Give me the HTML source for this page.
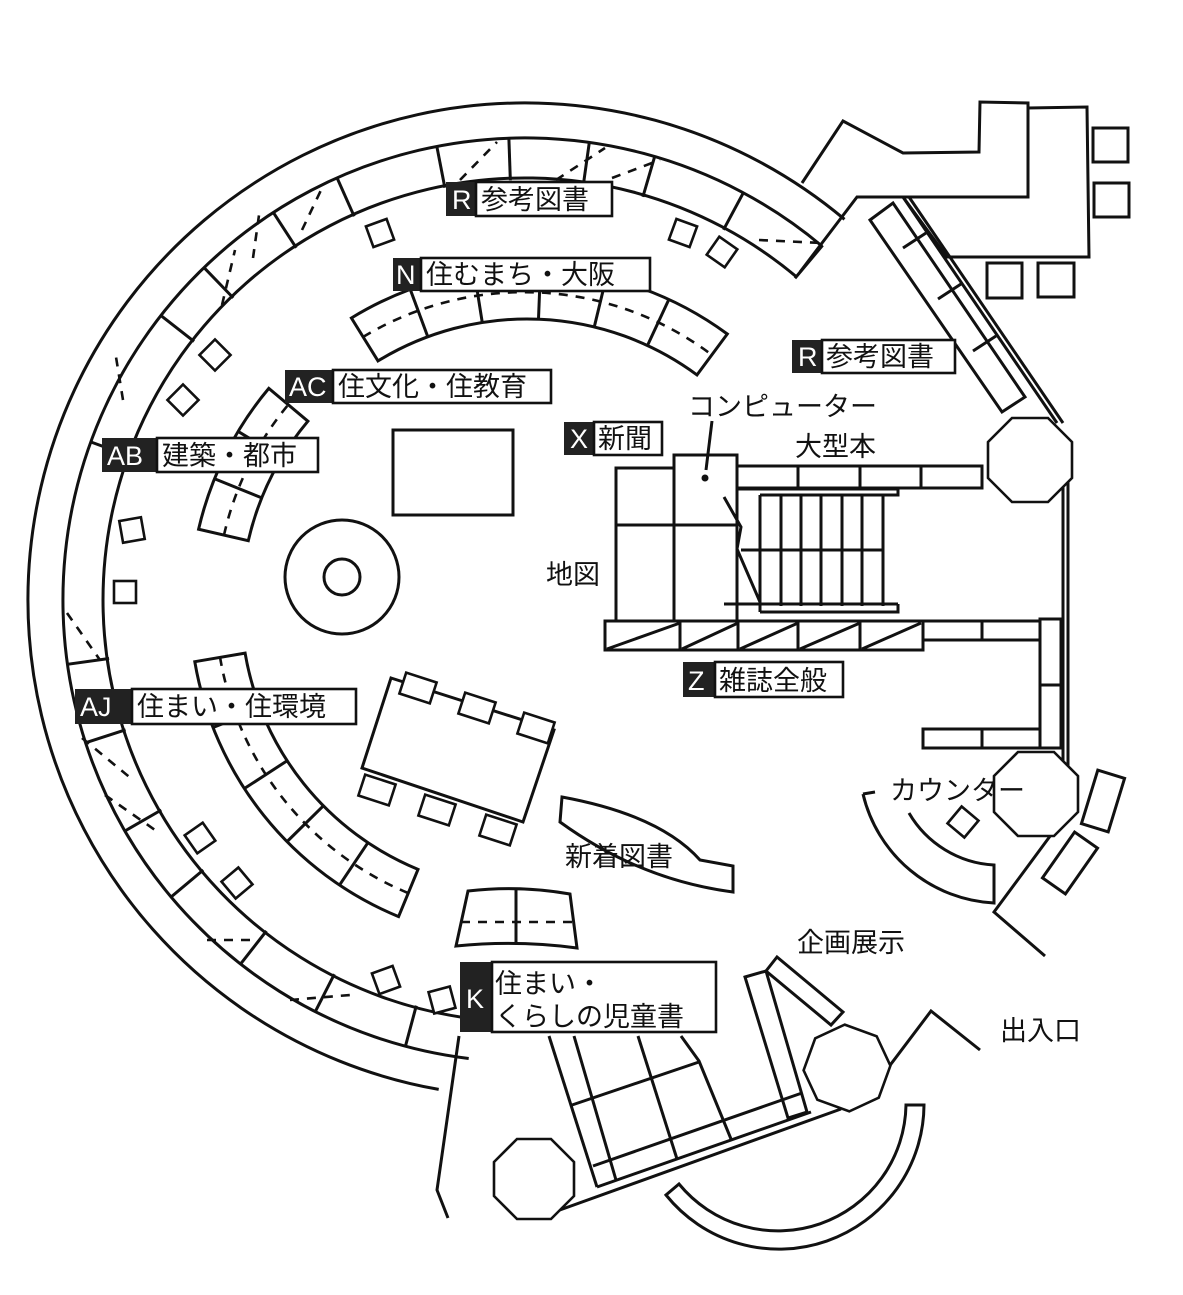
<!DOCTYPE html>
<html><head><meta charset="utf-8"><style>
html,body{margin:0;padding:0;background:#fff}
svg{display:block}
text{font-family:"Liberation Sans","Noto Sans CJK JP",sans-serif;fill:#111}
.l{fill:none;stroke:#111;stroke-width:3}
.d{fill:none;stroke:#111;stroke-width:2.6;stroke-dasharray:9 8}
.b{fill:#222}
.w{fill:#fff;stroke:#111;stroke-width:2.6}
</style></head><body>
<svg width="1183" height="1295" viewBox="0 0 1183 1295" xmlns="http://www.w3.org/2000/svg">
<path class="l" d="M844.5,219.3 A497,497 0 1 0 438.7,1089.4"/>
<path class="l" d="M822,246.1 A462,462 0 1 0 468.7,1058.5"/>
<path class="l" d="M796.3,276.7 A422,422 0 1 0 473.6,1018.8"/>
<g transform="translate(525,600)" class="l">
<line x1="420" y1="0" x2="463" y2="0" transform="rotate(-50)"/>
<line x1="420" y1="0" x2="463" y2="0" transform="rotate(-61.8)"/>
<line x1="420" y1="0" x2="463" y2="0" transform="rotate(-73.7)"/>
<line x1="420" y1="0" x2="463" y2="0" transform="rotate(-82)"/>
<line x1="420" y1="0" x2="463" y2="0" transform="rotate(-92)"/>
<line x1="420" y1="0" x2="463" y2="0" transform="rotate(-101)"/>
<line x1="420" y1="0" x2="463" y2="0" transform="rotate(-114)"/>
<line x1="420" y1="0" x2="463" y2="0" transform="rotate(-123)"/>
<line x1="420" y1="0" x2="463" y2="0" transform="rotate(-134)"/>
<line x1="420" y1="0" x2="463" y2="0" transform="rotate(-142)"/>
<line x1="420" y1="0" x2="463" y2="0" transform="rotate(-160)"/>
<line x1="420" y1="0" x2="463" y2="0" transform="rotate(-188)"/>
<line x1="420" y1="0" x2="463" y2="0" transform="rotate(-198)"/>
<line x1="420" y1="0" x2="463" y2="0" transform="rotate(-210)"/>
<line x1="420" y1="0" x2="463" y2="0" transform="rotate(-220)"/>
<line x1="420" y1="0" x2="463" y2="0" transform="rotate(-232)"/>
<line x1="420" y1="0" x2="463" y2="0" transform="rotate(-243)"/>
<line x1="420" y1="0" x2="463" y2="0" transform="rotate(-255)"/>
</g>
<g class="d">
<line x1="460" y1="180" x2="497" y2="142"/>
<line x1="556" y1="180" x2="605" y2="148"/>
<line x1="612" y1="178" x2="660" y2="160"/>
<line x1="759" y1="240" x2="822" y2="243"/>
<line x1="253" y1="258" x2="260" y2="208"/>
<line x1="302" y1="230" x2="322" y2="188"/>
<line x1="222" y1="305" x2="235" y2="250"/>
<line x1="123" y1="400" x2="116" y2="357"/>
<line x1="67" y1="613" x2="100" y2="660"/>
<line x1="82" y1="738" x2="133" y2="780"/>
<line x1="105" y1="795" x2="155" y2="830"/>
<line x1="207" y1="940" x2="255" y2="940"/>
<line x1="290" y1="1000" x2="350" y2="995"/>
</g>
<g transform="translate(527,605)">
<path class="l" d="M-175.6,-287.0 A337,337 0 0 1 200.3,-271.0 L170.0,-230.1 A286,286 0 0 0 -149.0,-244.1 Z"/>
<path class="d" d="M-164,-268 A312,312 0 0 1 185,-250"/>
<g class="l">
<line x1="286" y1="0" x2="337" y2="0" transform="rotate(-110.3)"/>
<line x1="286" y1="0" x2="337" y2="0" transform="rotate(-99)"/>
<line x1="286" y1="0" x2="337" y2="0" transform="rotate(-87.7)"/>
<line x1="286" y1="0" x2="337" y2="0" transform="rotate(-76.4)"/>
<line x1="286" y1="0" x2="337" y2="0" transform="rotate(-65.1)"/>
</g>
<path class="l" d="M-328.4,-75.8 A337,337 0 0 1 -258.2,-216.6 L-219.1,-183.8 A286,286 0 0 0 -278.7,-64.3 Z"/>
<path class="d" d="M-303,-70 A312,312 0 0 1 -239,-200"/>
<g class="l">
<line x1="286" y1="0" x2="337" y2="0" transform="rotate(-158)"/>
<line x1="286" y1="0" x2="337" y2="0" transform="rotate(-149)"/>
</g>
<path class="l" d="M-332.2,56.7 A337,337 0 0 0 -128.4,311.6 L-109.0,264.4 A286,286 0 0 1 -281.9,48.1 Z"/>
<path class="d" d="M-307,52 A312,312 0 0 0 -119,288"/>
<g class="l">
<line x1="286" y1="0" x2="337" y2="0" transform="rotate(158.7)"/>
<line x1="286" y1="0" x2="337" y2="0" transform="rotate(147)"/>
<line x1="286" y1="0" x2="337" y2="0" transform="rotate(135.4)"/>
<line x1="286" y1="0" x2="337" y2="0" transform="rotate(123.8)"/>
</g>
</g>
<path class="l" d="M468,891 Q519,885 570,894 L577,948 Q517,940 456,946 Z"/>
<line class="l" x1="516" y1="890" x2="516" y2="944"/>
<line class="d" x1="461" y1="922" x2="574" y2="922"/>
<path class="l" d="M562,797 Q660,815 700,860 L733,866 L733,892 Q640,880 560,822 Z"/>
<g class="w">
<rect x="-11" y="-11" width="22" height="22" transform="translate(380,233) rotate(-20)"/>
<rect x="-11" y="-11" width="22" height="22" transform="translate(683,233) rotate(20)"/>
<rect x="-11" y="-11" width="22" height="22" transform="translate(722,252) rotate(35)"/>
<rect x="-11" y="-11" width="22" height="22" transform="translate(215,355) rotate(-45)"/>
<rect x="-11" y="-11" width="22" height="22" transform="translate(183,400) rotate(-45)"/>
<rect x="-11" y="-11" width="22" height="22" transform="translate(132,530) rotate(-10)"/>
<rect x="-11" y="-11" width="22" height="22" transform="translate(125,592) rotate(0)"/>
<rect x="-11" y="-11" width="22" height="22" transform="translate(200,838) rotate(-35)"/>
<rect x="-11" y="-11" width="22" height="22" transform="translate(237,883) rotate(-40)"/>
<rect x="-11" y="-11" width="22" height="22" transform="translate(386,980) rotate(-20)"/>
<rect x="-11" y="-11" width="22" height="22" transform="translate(442,1000) rotate(-15)"/>
<rect x="-11" y="-11" width="22" height="22" transform="translate(963,822) rotate(40)"/>
</g>
<rect class="l" x="393" y="430" width="120" height="85"/>
<circle class="l" cx="342" cy="577" r="57"/>
<circle class="l" cx="342" cy="577" r="18"/>
<polygon class="l" points="391,678 554,730 523,822 362,768"/>
<g class="w">
<rect x="-16" y="-11" width="32" height="22" transform="translate(418,688) rotate(18)"/>
<rect x="-16" y="-11" width="32" height="22" transform="translate(477,708) rotate(18)"/>
<rect x="-16" y="-11" width="32" height="22" transform="translate(536,728) rotate(18)"/>
<rect x="-16" y="-11" width="32" height="22" transform="translate(377,790) rotate(18)"/>
<rect x="-16" y="-11" width="32" height="22" transform="translate(437,810) rotate(18)"/>
<rect x="-16" y="-11" width="32" height="22" transform="translate(498,830) rotate(18)"/>
</g>
<g class="l">
<rect x="616" y="468" width="58" height="153"/>
<rect x="674" y="455" width="63" height="166"/>
<line x1="616" y1="525" x2="737" y2="525"/>
<rect x="737" y="466" width="245" height="22"/>
<line x1="798" y1="466" x2="798" y2="488"/><line x1="860" y1="466" x2="860" y2="488"/><line x1="921" y1="466" x2="921" y2="488"/>
<polyline points="737,489 898,489 898,495 760,495"/>
<line x1="760" y1="495" x2="760" y2="612"/><line x1="781" y1="495" x2="781" y2="606"/><line x1="801" y1="495" x2="801" y2="606"/><line x1="821" y1="495" x2="821" y2="606"/><line x1="842" y1="495" x2="842" y2="606"/><line x1="862" y1="495" x2="862" y2="606"/><line x1="883" y1="495" x2="883" y2="606"/>
<line x1="741" y1="550" x2="883" y2="550"/>
<polyline points="724,497 741,527 737,549 760,602"/>
<line x1="724" y1="604" x2="898" y2="604"/>
<polyline points="760,612 898,612 898,604"/>
<rect x="605" y="621" width="318" height="29"/>
<line x1="680" y1="621" x2="680" y2="650"/><line x1="738" y1="621" x2="738" y2="650"/><line x1="798" y1="621" x2="798" y2="650"/><line x1="860" y1="621" x2="860" y2="650"/>
<line x1="607" y1="649" x2="680" y2="623"/><line x1="682" y1="649" x2="738" y2="623"/><line x1="740" y1="649" x2="798" y2="623"/><line x1="800" y1="649" x2="860" y2="623"/><line x1="862" y1="649" x2="921" y2="623"/>
<rect x="923" y="621" width="117" height="19"/><line x1="982" y1="621" x2="982" y2="640"/>
<rect x="1040" y="619" width="21" height="129"/><line x1="1040" y1="685" x2="1061" y2="685"/>
<rect x="923" y="729" width="117" height="19"/><line x1="982" y1="729" x2="982" y2="748"/>
<line x1="1063" y1="455" x2="1063" y2="771"/><line x1="1068" y1="455" x2="1068" y2="771"/>
<line x1="903" y1="197" x2="1057" y2="423"/><line x1="909" y1="197" x2="1063" y2="423"/>
<polygon points="870,220 893,203 1025,397 1002,412"/>
<line x1="903" y1="248" x2="926" y2="233"/><line x1="938" y1="299" x2="961" y2="284"/><line x1="973" y1="351" x2="996" y2="336"/>
<polyline points="802,183 843,121 903,153 979,152 980,102 1028,103 1028,108 1087,107 1089,257 947,257 903,197 857,197 838,222 800,272"/>
<polyline points="1028,108 1028,197 903,197"/>
<rect x="1093" y="128" width="35" height="34"/><rect x="1094" y="183" width="35" height="34"/>
<rect x="987" y="263" width="35" height="35"/><rect x="1038" y="263" width="36" height="34"/>
<path d="M863,794 L875,792 M863,794 A142,142 0 0 0 994,903 L994,865 A105,105 0 0 1 909,813"/>
<g transform="translate(1103,801) rotate(17)"><rect x="-14" y="-28" width="28" height="56"/></g>
<g transform="translate(1070,863) rotate(35)"><rect x="-14" y="-28" width="28" height="56"/></g>
<polyline points="1059,824 994,912 1045,956"/>
<polyline points="888,1068 931,1011 980,1050"/>
<polygon points="745,977 766,971 807,1112 788,1118"/>
<polygon points="766,971 777,957 843,1012 831,1025"/>
<line x1="557" y1="1211" x2="841" y2="1109"/>
<line x1="597" y1="1187" x2="811" y2="1112"/>
<line x1="549" y1="1036" x2="597" y2="1187"/>
<line x1="574" y1="1036" x2="616" y2="1180"/>
<line x1="638" y1="1036" x2="677" y2="1159"/>
<polyline points="681,1036 699,1061 731,1139"/>
<line x1="572" y1="1105" x2="699" y2="1062"/>
<line x1="593" y1="1166" x2="802" y2="1093"/>
<polyline points="459,1036 437,1190 448,1218"/>
<path d="M906,1105 A128,128 0 0 1 679,1184 L666,1195 A145,145 0 0 0 924,1105 Z"/>
</g>
<g class="w" stroke-width="3">
<polygon transform="translate(1030,460)" points="-18,-42 18,-42 42,-18 42,18 18,42 -18,42 -42,18 -42,-18"/>
<polygon transform="translate(1036,794)" points="-18,-42 18,-42 42,-18 42,18 18,42 -18,42 -42,18 -42,-18"/>
<polygon transform="translate(847,1068) rotate(20)" points="-17,-40 17,-40 40,-17 40,17 17,40 -17,40 -40,17 -40,-17"/>
<polygon transform="translate(534,1179)" points="-17,-40 17,-40 40,-17 40,17 17,40 -17,40 -40,17 -40,-17"/>
</g>
<g font-size="27">
<rect class="b" x="446" y="182" width="30" height="34"/><rect class="w" x="476" y="182" width="136" height="34"/>
<text x="452" y="209" style="fill:#fff">R</text><text x="481" y="209">参考図書</text>
<rect class="b" x="393" y="258" width="28" height="33"/><rect class="w" x="421" y="258" width="229" height="33"/>
<text x="396" y="284" style="fill:#fff">N</text><text x="426" y="284">住むまち・大阪</text>
<rect class="b" x="792" y="340" width="30" height="33"/><rect class="w" x="822" y="340" width="133" height="33"/>
<text x="798" y="366" style="fill:#fff">R</text><text x="826" y="366">参考図書</text>
<rect class="b" x="285" y="370" width="48" height="33"/><rect class="w" x="333" y="370" width="218" height="33"/>
<text x="289" y="396" style="fill:#fff">AC</text><text x="338" y="396">住文化・住教育</text>
<rect class="b" x="564" y="422" width="30" height="33"/><rect class="w" x="594" y="422" width="68" height="33"/>
<text x="570" y="448" style="fill:#fff">X</text><text x="598" y="448">新聞</text>
<rect class="b" x="102" y="438" width="55" height="34"/><rect class="w" x="157" y="438" width="161" height="34"/>
<text x="107" y="465" style="fill:#fff">AB</text><text x="162" y="465">建築・都市</text>
<rect class="b" x="683" y="662" width="32" height="35"/><rect class="w" x="715" y="662" width="128" height="35"/>
<text x="688" y="690" style="fill:#fff">Z</text><text x="719" y="690">雑誌全般</text>
<rect class="b" x="75" y="689" width="57" height="35"/><rect class="w" x="132" y="689" width="224" height="35"/>
<text x="80" y="716" style="fill:#fff">AJ</text><text x="137" y="716">住まい・住環境</text>
<rect class="b" x="460" y="962" width="32" height="70"/><rect class="w" x="492" y="962" width="224" height="70"/>
<text x="466" y="1008" style="fill:#fff">K</text><text x="495" y="993">住まい・</text><text x="495" y="1026">くらしの児童書</text>
<text x="688" y="416">コンピューター</text>
<text x="795" y="456">大型本</text>
<text x="546" y="584">地図</text>
<text x="890" y="800">カウンター</text>
<text x="565" y="866">新着図書</text>
<text x="797" y="952">企画展示</text>
<text x="1000" y="1040">出入口</text>
</g>
<polyline class="l" points="712,421 706,470"/>
<circle cx="705" cy="478" r="3.5" fill="#111"/>
</svg>
</body></html>
